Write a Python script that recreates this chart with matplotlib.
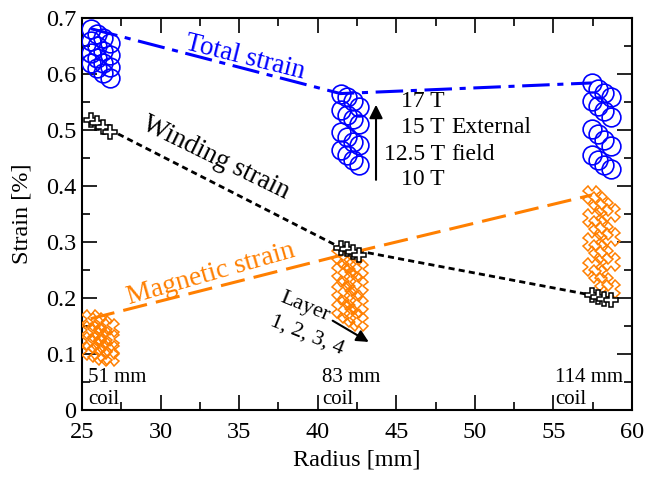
import matplotlib
matplotlib.use("Agg")
import matplotlib.pyplot as plt
from matplotlib.ticker import MultipleLocator, FuncFormatter

plt.rcParams['font.family'] = ['Liberation Serif', 'DejaVu Serif']

# layer radii of each coil [mm]
r51 = [25.55, 25.95, 26.35, 26.75]
r83 = [41.45, 41.85, 42.25, 42.65]
r114 = [57.45, 57.85, 58.25, 58.65]

fields = ['17 T', '15 T', '12.5 T', '10 T']

# strain [%], rows = field (17, 15, 12.5, 10 T), cols = layer 1..4
total_51 = [[0.681, 0.672, 0.664, 0.655],
            [0.658, 0.650, 0.641, 0.633],
            [0.637, 0.628, 0.620, 0.612],
            [0.619, 0.610, 0.601, 0.592]]
total_83 = [[0.565, 0.559, 0.551, 0.541],
            [0.535, 0.526, 0.519, 0.511],
            [0.496, 0.488, 0.479, 0.473],
            [0.464, 0.455, 0.446, 0.438]]
total_114 = [[0.584, 0.574, 0.566, 0.559],
             [0.552, 0.543, 0.534, 0.524],
             [0.502, 0.493, 0.482, 0.472],
             [0.455, 0.446, 0.437, 0.431]]

winding_51 = [0.518, 0.512, 0.505, 0.497]
winding_83 = [0.290, 0.287, 0.282, 0.276]
winding_114 = [0.205, 0.202, 0.199, 0.196]

magnetic_51 = [[0.163, 0.157, 0.152, 0.146],
               [0.142, 0.137, 0.132, 0.126],
               [0.124, 0.118, 0.113, 0.108],
               [0.106, 0.101, 0.097, 0.094]]
magnetic_83 = [[0.276, 0.268, 0.260, 0.252],
               [0.246, 0.238, 0.230, 0.222],
               [0.212, 0.204, 0.196, 0.188],
               [0.180, 0.172, 0.164, 0.157]]
magnetic_114 = [[0.384, 0.373, 0.362, 0.352],
                [0.342, 0.331, 0.320, 0.309],
                [0.300, 0.288, 0.276, 0.264],
                [0.255, 0.242, 0.228, 0.216]]

radii = [r51, r83, r114]
totals = [total_51, total_83, total_114]
windings = [winding_51, winding_83, winding_114]
magnetics = [magnetic_51, magnetic_83, magnetic_114]
coil_labels = ['51 mm\ncoil', '83 mm\ncoil', '114 mm\ncoil']
coil_label_x = [25.4, 40.3, 55.1]

blue = '#0000ff'
orange = '#ff7f00'

fig = plt.figure(figsize=(6.52, 4.82), dpi=100)
ax = fig.add_axes([0.1258, 0.1494, 0.8435, 0.8133])

# trend lines through the innermost layer at the highest field
first_r = [r[0] for r in radii]
ax.plot(first_r, [t[0][0] for t in totals], color=blue, lw=2.2,
        dashes=(9, 2.5, 2, 2.5), zorder=2)
ax.plot(first_r, [w[0] for w in windings], color='k', lw=2.0,
        dashes=(2.2, 1.5), zorder=2)
ax.plot(first_r, [m[0][0] for m in magnetics], color=orange, lw=2.2,
        dashes=(8, 3), zorder=2)

for r, tot, win, mag in zip(radii, totals, windings, magnetics):
    for row in mag:
        ax.plot(r, row, ls='none', marker='X', ms=12.5, mfc='none',
                mec=orange, mew=1.1, zorder=3)
    ax.plot(r, win, ls='none', marker='P', ms=10.5, mfc='white',
            mec='k', mew=1.1, zorder=4)
    for row in tot:
        ax.plot(r, row, ls='none', marker='o', ms=13.5, mfc='none',
                mec=blue, mew=1.2, zorder=5)

ax.set_xlim(25, 60)
ax.set_ylim(0, 0.7)
ax.xaxis.set_major_locator(MultipleLocator(5))
ax.xaxis.set_minor_locator(MultipleLocator(2.5))
ax.yaxis.set_major_locator(MultipleLocator(0.1))
ax.yaxis.set_minor_locator(MultipleLocator(0.05))
ax.yaxis.set_major_formatter(FuncFormatter(lambda v, p: '0' if abs(v) < 1e-9 else f'{v:.1f}'))
ax.tick_params(which='both', direction='in', top=True, right=True,
               labelsize=17.5, width=1.2)
ax.tick_params(which='major', length=11, pad=4)
ax.tick_params(which='minor', length=5.5)
ax.tick_params(axis='x', which='major', pad=9)
for s in ax.spines.values():
    s.set_linewidth(1.5)

ax.set_xlabel('Radius [mm]', fontsize=17.5, labelpad=4)
ax.set_ylabel('Strain [%]', fontsize=17.5, labelpad=10)

ax.text(35.4, 0.630, 'Total strain', color=blue, fontsize=19.5,
        rotation=-14, ha='center', va='center')
ax.text(33.5, 0.450, 'Winding strain', color='k', fontsize=19.5,
        rotation=-26, ha='center', va='center')
ax.text(33.2, 0.243, 'Magnetic strain', color=orange, fontsize=20,
        rotation=16, ha='center', va='center')

# external field labels and arrow
field_y = [0.550, 0.504, 0.457, 0.411]
for f, fy in zip(fields, field_y):
    ax.text(48.1, fy, f, fontsize=17, ha='right', va='center')
ax.text(48.5, field_y[1], 'External', fontsize=17, ha='left', va='center')
ax.text(48.5, field_y[2], 'field', fontsize=17, ha='left', va='center')
ax.annotate('', xy=(43.71, 0.550), xytext=(43.71, 0.406),
            arrowprops=dict(arrowstyle='-|>', color='k', lw=1.5,
                            mutation_scale=20))

# layer direction
ax.text(39.2, 0.184, 'Layer', fontsize=16, rotation=-22,
        ha='center', va='center')
ax.text(39.3, 0.134, '1, 2, 3, 4', fontsize=16, rotation=-22,
        ha='center', va='center')
ax.annotate('', xy=(43.4, 0.119), xytext=(40.8, 0.162),
            arrowprops=dict(arrowstyle='-|>', color='k', lw=1.5,
                            mutation_scale=18))

for lbl, lx in zip(coil_labels, coil_label_x):
    ax.text(lx, 0.038, lbl, fontsize=15, ha='left', va='center',
            linespacing=1.25)

fig.savefig('out.png', dpi=100)
